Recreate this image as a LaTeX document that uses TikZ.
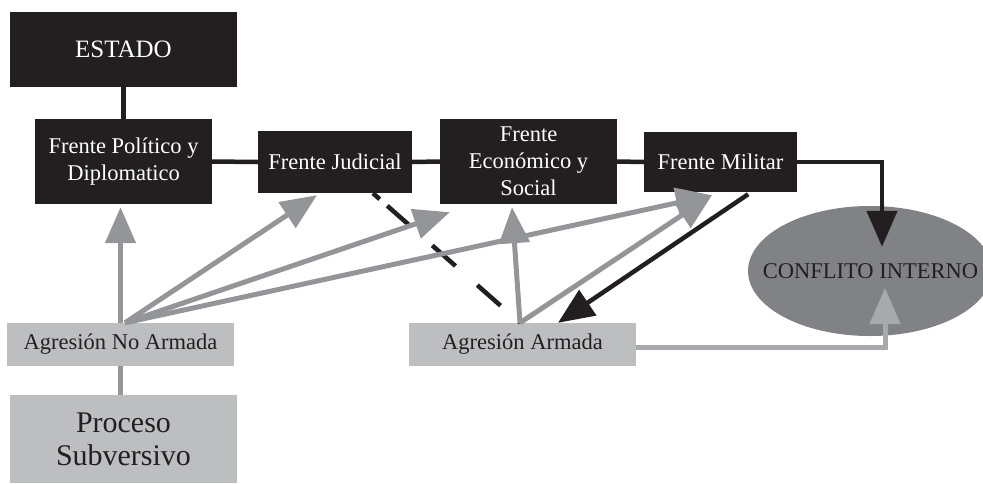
\documentclass[tikz,border=0pt]{standalone}
\usepackage{fontspec}
\setmainfont{Liberation Serif}
\usetikzlibrary{arrows.meta}
\usetikzlibrary{calc}
\usetikzlibrary{shapes}
\definecolor{negro}{HTML}{231F20}
\definecolor{grisclaro}{HTML}{BCBEC0}
\definecolor{grismedio}{HTML}{939598}
\definecolor{grisoscuro}{HTML}{808285}
\definecolor{grisflecha}{HTML}{A7A9AC}

\begin{document}
\begin{tikzpicture}[x=1pt,y=-1pt,>={Triangle[length=36pt,width=30pt]},
caja negra/.style={rectangle,fill=negro,text=white,inner sep=0pt,align=center,
  font=\fontsize{22.5}{27}\selectfont},
caja gris/.style={rectangle,fill=grisclaro,text=negro,inner sep=0pt,align=center,
  font=\fontsize{22.5}{27}\selectfont}]

\useasboundingbox (0,0) rectangle (983,483);

\node[caja negra,minimum width=227pt,minimum height=75pt,font=\fontsize{25}{28}\selectfont](estado) at (123.5,49.5){ESTADO};
\node[caja negra,minimum width=177pt,minimum height=85pt](politico) at (123.5,161.5){Frente Político y\\Diplomatico};
\node[caja negra,minimum width=154pt,minimum height=62pt](judicial) at (335,162){Frente Judicial};
\node[caja negra,minimum width=177pt,minimum height=85pt](economico) at (528.5,161.5){Frente\\Económico y\\Social};
\node[caja negra,minimum width=153pt,minimum height=60pt](militar) at (720.5,162){Frente Militar};

\node[ellipse,fill=grisoscuro,inner sep=0pt,minimum width=244pt,minimum height=130pt,
  label={[text=negro,inner sep=0pt,font=\fontsize{22.5}{27}\selectfont,xshift=0.5pt]center:CONFLITO INTERNO}](conflicto) at (870,271){};

\node[caja gris,minimum width=227pt,minimum height=43pt](noarmada) at (120.5,344.5){Agresión No Armada};
\node[caja gris,minimum width=227pt,minimum height=88pt,font=\fontsize{30}{33}\selectfont](proceso) at (123.5,439){Proceso\\Subversivo};
\node[caja gris,minimum width=227pt,minimum height=43pt](armada) at (522.5,344.5){Agresión Armada};

\coordinate (na) at ($(noarmada.north)+(4.5,0)$);
\coordinate (ar) at ($(armada.north)+(-2.5,0)$);
\coordinate (punta militar) at ($(militar.south)+(-8.5,3)$);

% frentes del estado
\begin{scope}[draw=negro, line width=4.5pt]
\draw (estado.south)--(politico.north);
\draw (politico.east)--(judicial.west);
\draw (judicial.east)--(economico.west);
\draw (economico.east)--(militar.west);
\draw[->] (militar.east)-|($(conflicto.north)+(12,41)$);
\draw[->] ($(militar.south east)+(-49,2)$)--($(armada.north)+(35.5,0)$);
\draw[dash pattern=on 9pt off 10pt on 31pt off 29pt on 31pt off 29pt on 31pt off 25pt on 10pt off 10pt]
  ($(judicial.south)+(38,0)$)--(ar);
\end{scope}

% agresiones
\begin{scope}[draw=grismedio, line width=5pt]
\draw (noarmada.south)--(noarmada.south|-proceso.north);
\draw[->] (noarmada.north)--($(noarmada.north|-politico.south)+(0,3)$);
\draw[->] (na)--($(judicial.south)+(-18,2)$);
\draw[->] (na)--($(economico.south west)+(10,8)$);
\draw[->] (na)--(punta militar);
\draw[->] (ar)--($(economico.south)+(-16.5,3)$);
\draw[->] (ar)--(punta militar);
\draw[->,draw=grisflecha] ($(armada.east)+(0,2.5)$)-|($(conflicto.center)+(15,17)$);
\end{scope}

\end{tikzpicture}
\end{document}
